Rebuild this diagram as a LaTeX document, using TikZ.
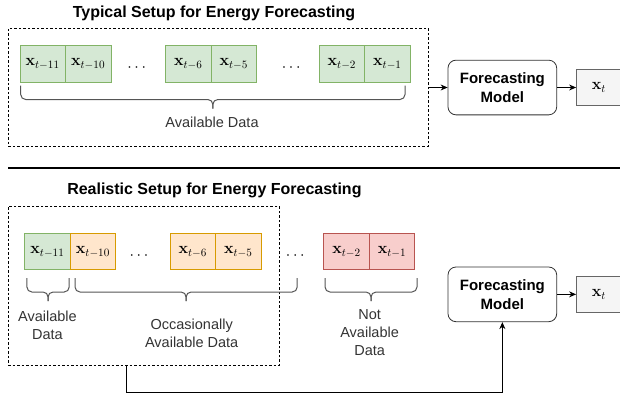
\documentclass[tikz,border=0pt]{standalone}
\usepackage{fix-cm}
\usepackage[no-math]{fontspec}
\setmainfont{Liberation Sans}
\usepackage{amsmath}
\usetikzlibrary{arrows.meta,positioning}
\definecolor{greenfill}{HTML}{D5E8D4}
\definecolor{greenline}{HTML}{82B366}
\definecolor{orangefill}{HTML}{FFE6CC}
\definecolor{orangeline}{HTML}{D79B00}
\definecolor{redfill}{HTML}{F8CECC}
\definecolor{redline}{HTML}{B85450}
\definecolor{grayfill}{HTML}{F5F5F5}
\definecolor{grayline}{HTML}{666666}
\definecolor{braceline}{HTML}{555555}
\definecolor{labeltext}{HTML}{333333}
\newcommand{\curly}[3]{%
  \draw[bracket] (#1,#3) -- (#1,#3+14) -- ({(#1+#2)/2},#3+14) -- ({(#1+#2)/2},#3+23);
  \draw[bracket] (#2,#3) -- (#2,#3+14) -- ({(#1+#2)/2},#3+14) -- ({(#1+#2)/2},#3+23);}

\begin{document}
\begin{tikzpicture}[x=1pt,y=-1pt,node distance=0pt,
  cell/.style={draw,line width=0.8pt,minimum width=45.5pt,minimum height=36pt,inner sep=0pt,outer sep=0pt,font=\fontsize{16}{19}\selectfont},
  green/.style={cell,draw=greenline,fill=greenfill},
  orange/.style={cell,draw=orangeline,fill=orangefill},
  red/.style={cell,draw=redline,fill=redfill},
  model/.style={draw=black!80,line width=0.8pt,rounded corners=8pt,minimum width=108.7pt,minimum height=54.7pt,align=center,font=\fontsize{15}{19}\selectfont\bfseries},
  outbox/.style={draw=grayline,fill=grayfill,line width=0.8pt,minimum width=45pt,minimum height=36.5pt,font=\fontsize{16}{19}\selectfont},
  groupbox/.style={draw,line width=0.7pt,dash pattern=on 2.5pt off 2pt,inner sep=0pt},
  flow/.style={-{Stealth[length=7pt,width=6pt]},line width=0.9pt},
  bracket/.style={draw=braceline,line width=1pt,rounded corners=5pt},
  label/.style={text=labeltext,align=center,font=\fontsize{14.5}{18.3}\selectfont},
  heading/.style={font=\fontsize{16}{19}\selectfont\bfseries}]

\useasboundingbox (0,0) rectangle (620,396);

\node[heading] (title1) at (214,13) {Typical Setup for Energy Forecasting};
\node[groupbox,minimum width=419.7pt,minimum height=118.4pt] (box1) at (218.15,87.5) {};

\node[green] (a11) at (42.65,63.9) {$\mathbf{x}_{t-11}$};
\node[green] (a10) [right=of a11] {$\mathbf{x}_{t-10}$};
\node[green] (a6) at (188.35,63.9) {$\mathbf{x}_{t-6}$};
\node[green] (a5) [right=of a6] {$\mathbf{x}_{t-5}$};
\node[green] (a2) at (341.9,63.9) {$\mathbf{x}_{t-2}$};
\node[green] (a1) [right=of a2] {$\mathbf{x}_{t-1}$};
\node[font=\fontsize{16}{19}\selectfont] (dots1) at (138,68) {$\cdots$};
\node[font=\fontsize{16}{19}\selectfont] (dots2) at (292.5,68) {$\cdots$};

\curly{20.7}{405}{85.5}
\node[label] (avail1) at (212,122) {Available Data};

\node[model] (model1) at (502.35,87.5) {Forecasting\\Model};
\node[outbox] (out1) [right=19pt of model1] {$\mathbf{x}_t$};

\path[flow]
    (box1.east)   edge (model1.west)
    (model1.east) edge (out1.west);

\draw[line width=2.5pt] (8,168) -- (620,168);

\node[heading] (title2) at (214.4,190.5) {Realistic Setup for Energy Forecasting};
\node[groupbox,minimum width=271.4pt,minimum height=158.5pt] (box2) at (143.7,285.75) {};

\node[green] (b11) at (47.45,251.8) {$\mathbf{x}_{t-11}$};
\node[orange] (b10) [right=of b11] {$\mathbf{x}_{t-10}$};
\node[orange] (b6) at (192.7,251.8) {$\mathbf{x}_{t-6}$};
\node[orange] (b5) [right=of b6] {$\mathbf{x}_{t-5}$};
\node[red] (b2) at (346.5,251.8) {$\mathbf{x}_{t-2}$};
\node[red] (b1) [right=of b2] {$\mathbf{x}_{t-1}$};
\node[font=\fontsize{16}{19}\selectfont] (dots3) at (140.3,256) {$\cdots$};
\node[font=\fontsize{16}{19}\selectfont] (dots4) at (296.6,256) {$\cdots$};

\curly{26.9}{69.2}{278}
\curly{75}{297.2}{278}
\curly{325}{417}{278}
\node[label] (avail2) at (47.5,325) {Available\\Data};
\node[label] (occas) at (191.7,333.2) {Occasionally\\Available Data};
\node[label] (notavail) at (369.6,332.5) {Not\\Available\\Data};

\node[model] (model2) at (502.35,294.35) {Forecasting\\Model};
\node[outbox] (out2) [right=19pt of model2] {$\mathbf{x}_t$};

\path[flow] (model2.east) edge (out2.west);
\draw[flow] ([xshift=-17pt]box2.south) -- ++(0,26.7) -| (model2.south);
\end{tikzpicture}
\end{document}
